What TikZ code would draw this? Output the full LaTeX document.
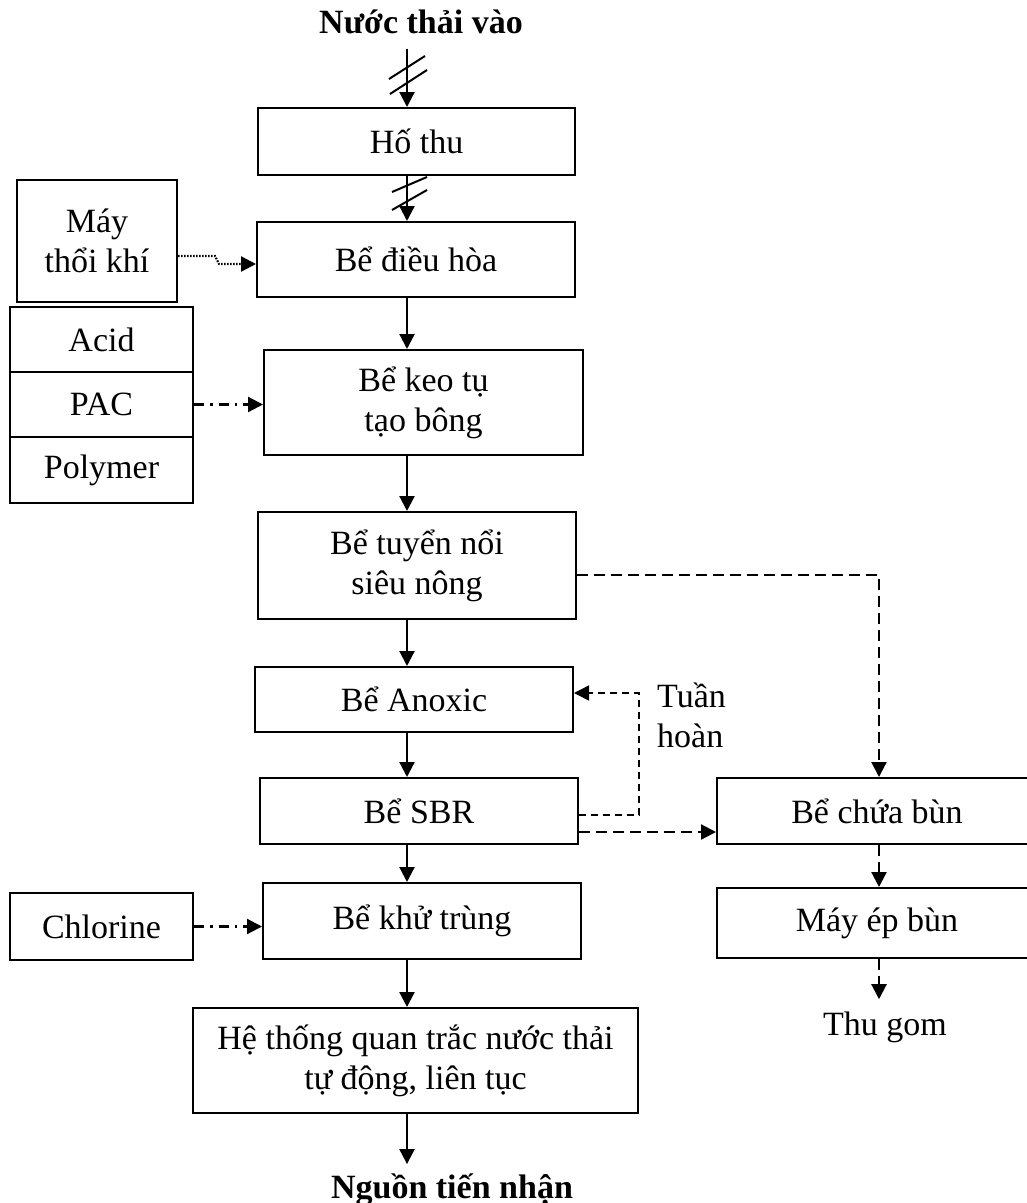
\documentclass[tikz,border=0pt]{standalone}
\usepackage{fontspec}
\setmainfont{Liberation Serif}
\usetikzlibrary{arrows.meta}
\begin{document}
\begin{tikzpicture}[x=1pt,y=-1pt,
  font=\fontsize{34pt}{40pt}\selectfont,
  box/.style={draw,line width=2pt,inner sep=0pt,align=center},
  lbl/.style={inner sep=0pt,align=center},
  tip/.style={-{Triangle[length=15pt,width=15pt]}},
  arr/.style={line width=2.2pt,tip},
  slash/.style={line width=2pt},
  sludge/.style={arr,dash pattern=on 11pt off 6pt},
  recirc/.style={line width=1.6pt,dash pattern=on 7pt off 5pt,tip},
  dotarr/.style={line width=2.2pt,dash pattern=on 1.6pt off 1.4pt,tip},
  dotdash/.style={line width=2.2pt,dash pattern=on 10pt off 6pt on 2.5pt off 6pt,tip},
]
\useasboundingbox (0,0) rectangle (1027,1203);
\coordinate (colx) at (407,0);
\coordinate (sx) at (879,0);
\coordinate (rc) at (639,693);
\coordinate (bk1) at (215,256);
\coordinate (bk2) at (219,264);

% labels
\node[lbl,font=\fontsize{34pt}{40pt}\selectfont\bfseries,anchor=base] (nuoc) at (421,33) {Nước thải vào};
\node[lbl,font=\fontsize{34pt}{40pt}\selectfont\bfseries,anchor=base] (nguon) at (452,1198) {Nguồn tiến nhận};
\node[lbl,anchor=base] (thugom) at (885,1035) {Thu gom};
\node[lbl,anchor=base west,align=left] (tuan) at (657,747) {Tuần\\hoàn};

% main column
\node[box,minimum width=317,minimum height=67] (hothu) at (416.5,141.5) {Hố thu};
\node[box,minimum width=318,minimum height=75] (dieuhoa) at (416,259.5) {Bể điều hòa};
\node[box,minimum width=319,minimum height=105] (keotu) at (423.5,402.5) {Bể keo tụ\\tạo bông};
\node[box,minimum width=318,minimum height=107] (tuyennoi) at (417,565.5) {Bể tuyển nổi\\siêu nông};
\node[box,minimum width=318,minimum height=65] (anoxic) at (414,699.5) {Bể Anoxic};
\node[box,minimum width=318,minimum height=66] (sbr) at (419,811) {Bể SBR};
\node[box,minimum width=318,minimum height=76] (khutrung) at (422,921) {Bể khử trùng};
\node[box,minimum width=445,minimum height=105] (hethong) at (415.5,1060.5) {Hệ thống quan trắc nước thải\\tự động, liên tục};

% left side
\node[box,minimum width=160,minimum height=122] (may) at (97,241) {Máy\\thổi khí};
\node[box,minimum width=183,minimum height=65] (acid) at (101.5,339.5) {Acid};
\node[box,minimum width=183,minimum height=65] (pac) at (101.5,404.5) {PAC};
\node[box,minimum width=183,minimum height=66] (poly) at (101.5,470) {Polymer};
\node[box,minimum width=183,minimum height=67] (chlor) at (101.5,926.5) {Chlorine};

% right side
\node[box,minimum width=320,minimum height=66] (chuabun) at (877,811) {Bể chứa bùn};
\node[box,minimum width=320,minimum height=70] (mayep) at (877,923) {Máy ép bùn};

% main flow
\draw[arr,shorten <=15pt] (nuoc.south -| colx) -- (hothu.north -| colx);
\draw[arr] (hothu.south -| colx) -- (dieuhoa.north -| colx);
\draw[arr] (dieuhoa.south -| colx) -- (keotu.north -| colx);
\draw[arr] (keotu.south -| colx) -- (tuyennoi.north -| colx);
\draw[arr] (tuyennoi.south -| colx) -- (anoxic.north -| colx);
\draw[arr] (anoxic.south -| colx) -- (sbr.north -| colx);
\draw[arr] (sbr.south -| colx) -- (khutrung.north -| colx);
\draw[arr] (khutrung.south -| colx) -- (hethong.north -| colx);
\draw[arr,shorten >=9pt] (hethong.south -| colx) -- (nguon.north -| colx);

% slashes
\draw[slash] (389,79) -- (425,56);
\draw[slash] (390,94) -- (427,70);
\draw[slash] (392,192) -- (427,177);
\draw[slash] (392,210) -- (427,190);

% chemicals and air
\draw[dotarr] (may.east |- bk1) -- (bk1) -- (bk2) -- (dieuhoa.west |- bk2);
\draw[dotdash] (pac.east) -- (keotu.west |- pac.east);
\draw[dotdash] (chlor.east) -- (khutrung.west |- chlor.east);

% sludge and recirculation
\draw[sludge] (tuyennoi.east |- 0,575) -| (chuabun.north -| sx);
\draw[sludge] (sbr.east |- 0,832) -- (chuabun.west |- 0,832);
\draw[sludge] (chuabun.south -| sx) -- (mayep.north -| sx);
\draw[sludge,shorten >=12pt] (mayep.south -| sx) -- (thugom.north -| sx);
\draw[recirc] (sbr.east |- 0,815) -| (rc) -- (anoxic.east |- rc);
\end{tikzpicture}
\end{document}
